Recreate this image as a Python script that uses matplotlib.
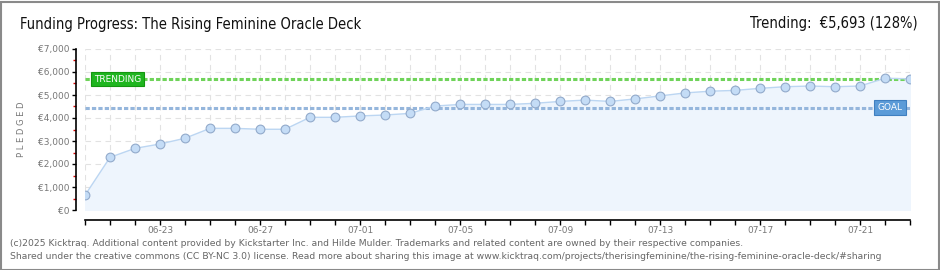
import matplotlib

matplotlib.use("Agg")
import matplotlib.pyplot as plt
from matplotlib.patches import Rectangle
from matplotlib.ticker import FixedLocator, MultipleLocator, FuncFormatter

# daily pledged totals, 06-20 .. 07-23
dates = [
    "06-20", "06-21", "06-22", "06-23", "06-24", "06-25", "06-26", "06-27",
    "06-28", "06-29", "06-30", "07-01", "07-02", "07-03", "07-04", "07-05",
    "07-06", "07-07", "07-08", "07-09", "07-10", "07-11", "07-12", "07-13",
    "07-14", "07-15", "07-16", "07-17", "07-18", "07-19", "07-20", "07-21",
    "07-22", "07-23",
]
pledged = [
    640, 2290, 2680, 2870, 3120, 3550, 3550, 3510,
    3510, 4030, 4030, 4090, 4130, 4200, 4520, 4590,
    4590, 4590, 4640, 4720, 4780, 4720, 4830, 4960,
    5090, 5165, 5200, 5290, 5360, 5390, 5360, 5390,
    5730, 5700,
]
goal = 4450
trending = 5693
label_dates = ["06-23", "06-27", "07-01", "07-05", "07-09", "07-13", "07-17", "07-21"]

W, H = 940, 270
fig = plt.figure(figsize=(W / 100, H / 100), dpi=100)
fig.patch.set_facecolor("white")
fig.patches.append(Rectangle((0.5 / W, 0.5 / H), 1 - 2 / W, 1 - 2 / H,
                             transform=fig.transFigure, fill=False,
                             edgecolor="#8a8a8a", lw=1.5))

ax = fig.add_axes([85 / W, (H - 210) / H, 825 / W, 161 / H])
x = list(range(len(dates)))
ax.set_xlim(0, len(dates) - 1)
ax.set_ylim(0, 7000)

ax.fill_between(x, pledged, 0, color="#eef5fd", zorder=1)
ax.plot(x, pledged, color="#bcd6f2", lw=1, zorder=3)
ax.plot(x, pledged, ls="none", marker="o", ms=6.3, mfc="#c4dcf6",
        mec="#92aacb", mew=0.8, zorder=4)

ax.axhline(trending, color="#6fd35a", lw=2.2, ls=(0, (1.4, 0.7)), zorder=2)
ax.axhline(goal, color="#95b6dc", lw=2.2, ls=(0, (1.4, 0.7)), zorder=2)

ax.text(0.35, trending, "TRENDING", color="white", fontsize=6.5, va="center",
        ha="left", zorder=5,
        bbox=dict(boxstyle="square,pad=0.3", fc="#1fb51f", ec="#14960f", lw=0.8))
ax.text(32.7, goal, "GOAL", color="white", fontsize=6.5, va="center",
        ha="right", zorder=5,
        bbox=dict(boxstyle="square,pad=0.35", fc="#5b9bd8", ec="#3f7fc0", lw=0.8))

# grid
ax.set_axisbelow(True)
for xi in x:
    ax.axvline(xi, color="#e2e2e2", lw=0.8, ls=(0, (5, 4)), zorder=0)
for yv in range(0, 7001, 1000):
    ax.axhline(yv, color="#e2e2e2", lw=0.8, ls=(0, (5, 4)), zorder=0)

for s in ["top", "right"]:
    ax.spines[s].set_visible(False)
ax.spines["left"].set_position(("outward", 6.5))
ax.spines["bottom"].set_position(("outward", 7.2))
ax.spines["bottom"].set_bounds(0, len(dates) - 1)
for s in ["left", "bottom"]:
    ax.spines[s].set_linewidth(1.2)
    ax.spines[s].set_color("black")

ax.yaxis.set_major_locator(MultipleLocator(1000))
ax.yaxis.set_minor_locator(MultipleLocator(500))
ax.yaxis.set_major_formatter(FuncFormatter(lambda v, p: "\u20ac{:,.0f}".format(v)))
ax.tick_params(axis="y", which="major", length=3, width=1, color="black",
               labelsize=6.5, labelcolor="#777777", pad=2)
ax.tick_params(axis="y", which="minor", length=2.5, width=1, color="#dd0000")

ax.set_xticks([dates.index(d) for d in label_dates])
ax.set_xticklabels(label_dates)
ax.xaxis.set_minor_locator(FixedLocator(x))
ax.tick_params(axis="x", which="both", length=3.5, width=1, color="black",
               labelsize=6.5, labelcolor="#777777", pad=1)

ax.set_ylabel("P L E D G E D", fontsize=6, color="#777777", labelpad=8)

fig.text(20 / W, 1 - 29 / H, "Funding Progress: The Rising Feminine Oracle Deck",
         fontsize=10.5, fontstretch="condensed", color="#111111",
         ha="left", va="baseline")
fig.text(918 / W, 1 - 28 / H, "Trending:  \u20ac5,693 (128%)",
         fontsize=10.5, fontstretch="condensed", color="#111111",
         ha="right", va="baseline")

footer1 = ("(c)2025 Kicktraq. Additional content provided by Kickstarter Inc. and Hilde Mulder. "
           "Trademarks and related content are owned by their respective companies.")
footer2 = ("Shared under the creative commons (CC BY-NC 3.0) license. Read more about sharing "
           "this image at www.kicktraq.com/projects/therisingfeminine/the-rising-feminine-oracle-deck/#sharing")
fig.text(10 / W, 1 - 246 / H, footer1, fontsize=6.7, color="#666666", ha="left", va="baseline")
fig.text(10 / W, 1 - 259 / H, footer2, fontsize=6.7, color="#666666", ha="left", va="baseline")

fig.savefig("out.png", dpi=100)
